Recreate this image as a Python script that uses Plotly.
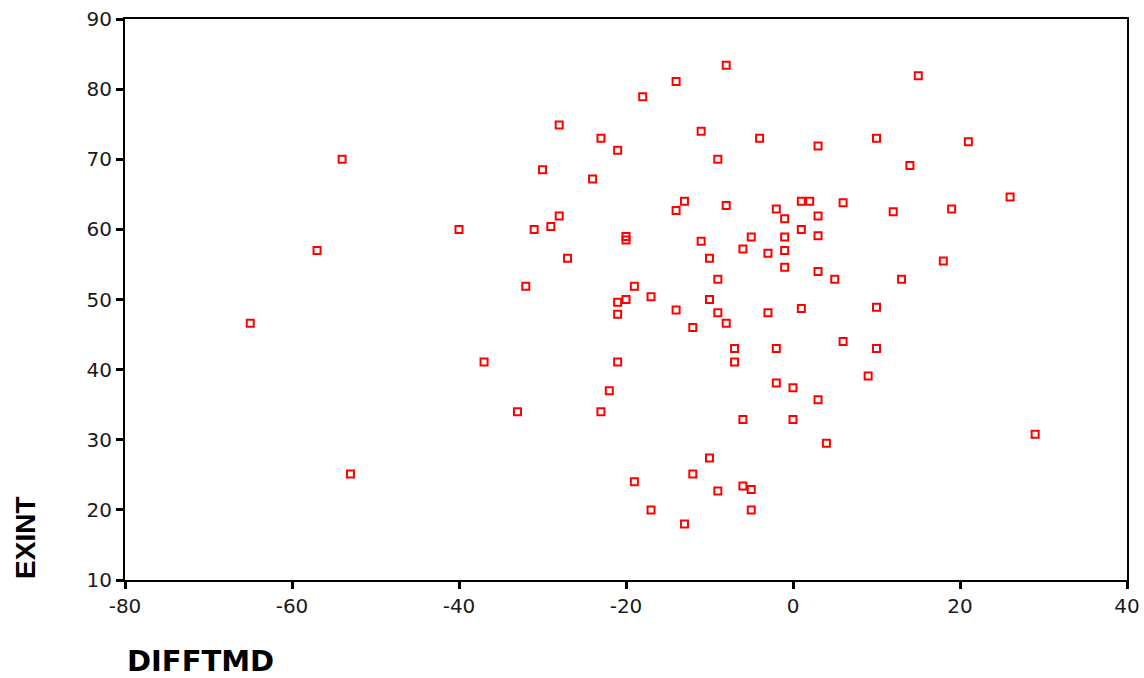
import plotly.graph_objects as go

# DIFFTMD (x) and EXINT (y) values
difftmd = [-65, -57, -54, -53, -40, -37, -33, -32, -31, -29, -30, -28, -28, -27,
           -24, -23, -23, -22, -21, -21, -21, -21, -20, -20, -20, -19, -19, -18,
           -17, -17, -14, -14, -14, -13, -13, -12, -12, -11, -11, -10, -10, -10,
           -9, -9, -9, -9, -8, -8, -8, -7, -7, -6, -6, -6, -5, -5, -5, -4,
           -3, -3, -2, -2, -2, -1, -1, -1, -1, 0, 0, 1, 1, 1, 2,
           3, 3, 3, 3, 3, 4, 5, 6, 6, 9, 10, 10, 10, 12, 13, 14, 15,
           18, 19, 21, 26, 29]
exint = [46.6, 57.0, 70.0, 25.1, 60.0, 41.1, 34.0, 51.9, 60.0, 60.4, 68.5, 74.9, 61.9, 55.9,
         67.2, 73.0, 34.0, 37.0, 71.3, 49.6, 47.9, 41.1, 50.0, 59.0, 58.5, 51.9, 24.0, 78.9,
         20.0, 50.4, 81.1, 62.7, 48.5, 64.0, 18.0, 46.0, 25.1, 74.0, 58.3, 55.9, 50.0, 27.4,
         70.0, 52.9, 48.1, 22.7, 83.4, 63.4, 46.6, 43.0, 41.1, 57.2, 32.9, 23.4, 58.9, 22.9, 20.0, 73.0,
         56.6, 48.1, 62.9, 43.0, 38.1, 61.5, 58.9, 57.0, 54.6, 37.4, 32.9, 64.0, 60.0, 48.7, 64.0,
         71.9, 61.9, 59.1, 54.0, 35.7, 29.5, 52.9, 63.8, 44.0, 39.1, 73.0, 48.9, 43.0, 62.5, 52.9, 69.1, 81.9,
         55.5, 62.9, 72.5, 64.6, 30.8]

x_tickvals = [-80, -60, -40, -20, 0, 20, 40]
x_ticktext = ["-80", "-60", "-40", "-20", "0", "20", "40"]
y_tickvals = [10, 20, 30, 40, 50, 60, 70, 80, 90]
y_ticktext = ["10", "20", "30", "40", "50", "60", "70", "80", "90"]

x_title = "DIFFTMD"
y_title = "EXINT"

fig = go.Figure()
fig.add_trace(go.Scatter(
    x=difftmd, y=exint, mode="markers",
    marker=dict(symbol="square-open", size=7, color="#ff0000",
                line=dict(color="#ff0000", width=2)),
    showlegend=False, hoverinfo="x+y",
))

tickfont = dict(family="DejaVu Sans", size=20, color="#1a1a1a")
fig.update_xaxes(
    range=[-80, 40], tickvals=x_tickvals, ticktext=x_ticktext, automargin=False,
    showgrid=False, zeroline=False, showline=True, linecolor="black", linewidth=2,
    mirror=True, ticks="outside", ticklen=7, tickwidth=3, tickcolor="black",
    tickfont=tickfont,
)
fig.update_yaxes(
    range=[10, 90], tickvals=y_tickvals, ticktext=y_ticktext, automargin=False,
    showgrid=False, zeroline=False, showline=True, linecolor="black", linewidth=2,
    mirror=True, ticks="outside", ticklen=7, tickwidth=3, tickcolor="black",
    tickfont=tickfont,
)

fig.update_layout(
    width=1144, height=678, autosize=False,
    margin=dict(l=125, r=17, t=19, b=98, autoexpand=False),
    paper_bgcolor="white", plot_bgcolor="white",
    annotations=[
        dict(text="<b>" + y_title + "</b>", xref="paper", yref="paper", x=-0.1, y=-0.002,
             xanchor="center", yanchor="bottom", textangle=-90, showarrow=False,
             font=dict(family="Liberation Sans", size=28, color="black")),
        dict(text="<b>" + x_title + "</b>", xref="paper", yref="paper", x=0.0, y=-0.145,
             xanchor="left", yanchor="middle", showarrow=False,
             font=dict(family="DejaVu Sans", size=29, color="black")),
    ],
)

fig.write_html("out.html", config={"displayModeBar": False},
               post_script="document.body.style.margin='0';document.body.style.overflow='hidden';")
